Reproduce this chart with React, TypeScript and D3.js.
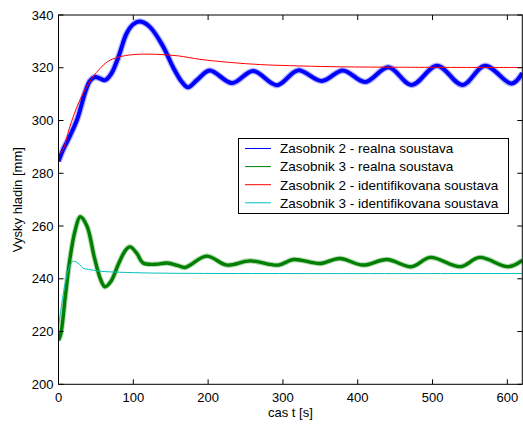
import React from "react";
import * as d3 from "d3";

// time [s], level [mm]
const blueT = [0, 6, 15, 25, 36, 42, 49, 55, 62, 70, 80, 91, 100, 109, 122, 140, 153, 165, 173, 185, 202, 232, 260, 292, 320, 352, 380, 410, 441, 472, 506, 540, 570, 606, 620];
const blueV = [284.5, 288.8, 294, 300.5, 311, 315, 316.5, 316, 315.3, 317.5, 324, 333, 336.5, 337.5, 335.5, 328, 320.3, 314.6, 312.6, 315.3, 319, 314.2, 318.8, 313.4, 319, 315, 319, 314.6, 320.2, 313.5, 320.8, 313.5, 320.8, 314, 318];

const greenT = [0, 3, 9, 15, 22, 29, 38, 48, 56, 62, 70, 80, 90, 96, 105, 113, 130, 145, 160, 169, 198, 225, 256, 294, 314, 350, 376, 407, 439, 472, 497, 537, 563, 601, 620];
const greenV = [216.7, 219, 233, 247, 258, 263.5, 260, 248, 240, 237, 239, 245.5, 251, 252.1, 249.5, 246, 245.5, 246, 245, 244.3, 248.6, 245.2, 246.8, 245.2, 247.3, 245.8, 247.7, 245.2, 247.3, 244.6, 248.1, 244.6, 248.1, 244.6, 247];

const redT = [0, 6, 15, 29, 46, 65, 80, 100, 130, 160, 189, 230, 270, 309, 367, 450, 620];
const redV = [287, 289, 297.5, 308, 316.5, 322.2, 324, 325, 325.1, 324.5, 323.2, 322, 321.2, 320.8, 320.4, 320.2, 320.1];

const cyanT = [0, 5.6, 11, 16, 20, 28, 33, 40, 55, 91, 150, 620];
const cyanV = [221.8, 233, 241, 245.5, 246.7, 245.5, 244, 243.6, 242.9, 242.4, 242.1, 242];

const xTicks = [0, 100, 200, 300, 400, 500, 600];
const yTicks = [200, 220, 240, 260, 280, 300, 320, 340];

const legendLabels = [
  "Zasobnik 2 - realna soustava",
  "Zasobnik 3 - realna soustava",
  "Zasobnik 2 - identifikovana soustava",
  "Zasobnik 3 - identifikovana soustava",
];
const colors = ["#0000ff", "#008000", "#ff0000", "#00bfbf"];

const W = 523;
const H = 425;
const L = 58.5;
const R = 522.3;
const T = 15;
const B = 384.3;

export default function App() {
  const x = d3.scaleLinear().domain([0, 620]).range([L, R]);
  const y = d3.scaleLinear().domain([200, 340]).range([B, T]);
  const line = d3
    .line<[number, number]>()
    .x((d) => x(d[0]))
    .y((d) => y(d[1]))
    .curve(d3.curveCatmullRom.alpha(0.5));
  const zip = (a: number[], b: number[]) => a.map((t, i) => [t, b[i]] as [number, number]);

  const blue = line(zip(blueT, blueV)) || "";
  const green = line(zip(greenT, greenV)) || "";
  const red = line(zip(redT, redV)) || "";
  const cyan = line(zip(cyanT, cyanV)) || "";

  const font = "Liberation Sans, Arial, sans-serif";
  const legX = 238.5;
  const legY = 138.5;
  const legW = 270;
  const legH = 75;

  return (
    <svg
      width={W}
      height={H}
      style={{ position: "absolute", left: 0, top: 0, background: "#fff" }}
      fontFamily={font}
    >
      <defs>
        <clipPath id="plot">
          <rect x={L} y={T} width={R - L} height={B - T} />
        </clipPath>
      </defs>
      <rect x={0} y={0} width={W} height={H} fill="#fff" />
      <g clipPath="url(#plot)" fill="none" strokeLinejoin="round">
        <path d={blue} stroke={colors[0]} strokeWidth={6.5} strokeOpacity={0.3} />
        <path d={blue} stroke={colors[0]} strokeWidth={4} />
        <path d={green} stroke={colors[1]} strokeWidth={5.5} strokeOpacity={0.3} />
        <path d={green} stroke={colors[1]} strokeWidth={3.4} />
        <path d={red} stroke={colors[2]} strokeWidth={1} />
        <path d={cyan} stroke={colors[3]} strokeWidth={1} />
      </g>
      {/* axes box */}
      <rect x={L} y={T} width={R - L} height={B - T} fill="none" stroke="#000" strokeWidth={1} />
      {xTicks.map((t) => (
        <g key={"x" + t}>
          <line x1={x(t)} x2={x(t)} y1={B} y2={B - 5} stroke="#000" />
          <line x1={x(t)} x2={x(t)} y1={T} y2={T + 5} stroke="#000" />
          <text x={x(t)} y={401.5} fontSize={13} textAnchor="middle" fill="#000">
            {t}
          </text>
        </g>
      ))}
      {yTicks.map((v) => (
        <g key={"y" + v}>
          <line x1={L} x2={L + 5} y1={y(v)} y2={y(v)} stroke="#000" />
          <line x1={R} x2={R - 5} y1={y(v)} y2={y(v)} stroke="#000" />
          <text x={53.5} y={y(v) + 4.7} fontSize={13} textAnchor="end" fill="#000">
            {v}
          </text>
        </g>
      ))}
      <text x={(L + R) / 2} y={417} fontSize={13} textAnchor="middle" fill="#000">
        cas t [s]
      </text>
      <text
        transform={`translate(21.5, ${(T + B) / 2}) rotate(-90)`}
        fontSize={13}
        textAnchor="middle"
        fill="#000"
      >
        Vysky hladin [mm]
      </text>
      {/* legend */}
      <rect x={legX} y={legY} width={legW} height={legH} fill="#fff" stroke="#000" strokeWidth={1} />
      {legendLabels.map((lab, i) => {
        const cy = 148.5 + i * 18.1;
        return (
          <g key={lab}>
            <line x1={245} x2={271} y1={cy} y2={cy} stroke={colors[i]} strokeWidth={1} />
            <text x={280} y={cy + 4.8} fontSize={13.5} fill="#000">
              {lab}
            </text>
          </g>
        );
      })}
    </svg>
  );
}
